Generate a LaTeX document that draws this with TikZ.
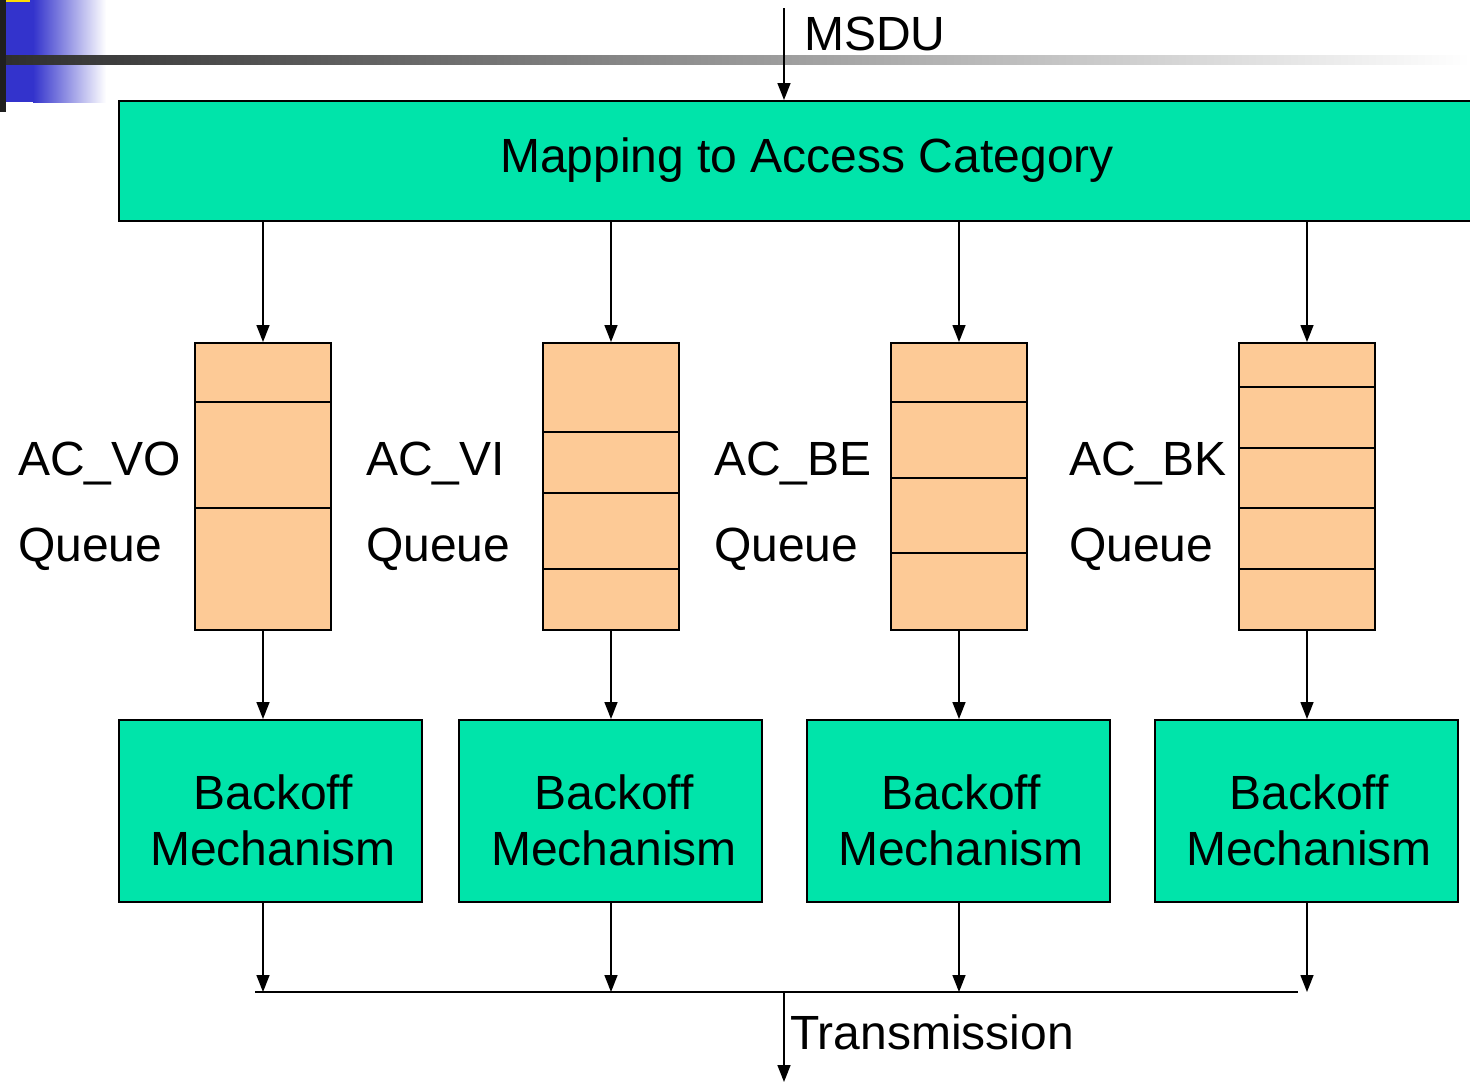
\documentclass[tikz,border=0pt]{standalone}
\usepackage{fontspec}
\setmainfont{Liberation Sans}
\usetikzlibrary{arrows.meta}

\definecolor{acgreen}{RGB}{0,228,170}
\definecolor{qorange}{RGB}{253,202,150}
\definecolor{slideblue}{RGB}{51,51,204}

\tikzset{
  arr/.style={line width=1.5pt, -{Triangle[length=17pt,width=13pt]}},
  greenbox/.style={draw, line width=2pt, fill=acgreen, inner sep=0pt},
  queuebox/.style={draw, line width=2pt, fill=qorange, inner sep=0pt,
    minimum width=136pt, minimum height=287pt},
  divider/.style={line width=2pt},
  lbl/.style={font=\fontsize{48}{56}\selectfont, inner sep=0pt},
}

\begin{document}
\begin{tikzpicture}[x=1pt, y=-1pt]
\useasboundingbox (0,0) rectangle (1470,1082);

% slide decoration in the upper left corner
\shade[left color=slideblue, right color=white] (33,0) rectangle (106,102);
\fill[slideblue] (5,0) rectangle (34,102);
\fill[yellow!80!orange] (6,0) rectangle (30,2);
\shade[left color=black!82, right color=white] (0,55) rectangle (1470,64);
\fill[black!88] (0,0) rectangle (6,112);

% mapping stage
\node[greenbox, minimum width=1370pt, minimum height=120pt, anchor=north west]
  (map) at (118,100) {};
\node[lbl, anchor=base] (maptxt) at (807,172) {Mapping to Access Category};

\coordinate (msduin) at (784,8);
\draw[arr] (msduin) -- (msduin |- map.north);
\node[lbl, anchor=base west] (msdu) at (804,50) {MSDU};

% queues
\node[queuebox, anchor=north west] (q1) at (194,342) {};
\node[queuebox, anchor=north west] (q2) at (542,342) {};
\node[queuebox, anchor=north west] (q3) at (890,342) {};
\node[queuebox, anchor=north west] (q4) at (1238,342) {};

\foreach \y in {402,508}
  \draw[divider] (q1.west |- 0,\y) -- (q1.east |- 0,\y);
\foreach \y in {432,493,569}
  \draw[divider] (q2.west |- 0,\y) -- (q2.east |- 0,\y);
\foreach \y in {402,478,553}
  \draw[divider] (q3.west |- 0,\y) -- (q3.east |- 0,\y);
\foreach \y in {387,448,508,569}
  \draw[divider] (q4.west |- 0,\y) -- (q4.east |- 0,\y);

% queue labels
\node[lbl, anchor=base west] (l1a) at (18,475) {AC\_VO};
\node[lbl, anchor=base west] (l1b) at (18,561) {Queue};
\node[lbl, anchor=base west] (l2a) at (366,475) {AC\_VI};
\node[lbl, anchor=base west] (l2b) at (366,561) {Queue};
\node[lbl, anchor=base west] (l3a) at (714,475) {AC\_BE};
\node[lbl, anchor=base west] (l3b) at (714,561) {Queue};
\node[lbl, anchor=base west] (l4a) at (1069,475) {AC\_BK};
\node[lbl, anchor=base west] (l4b) at (1069,561) {Queue};

% backoff stage
\foreach \i/\x in {1/118,2/458,3/806,4/1154}
  \node[greenbox, minimum width=303pt, minimum height=182pt, anchor=north west]
    (b\i) at (\x,719) {};
\foreach \i/\x in {1/273,2/614,3/961,4/1309} {
  \node[lbl, anchor=base] (bt\i) at (\x,809) {Backoff};
  \node[lbl, anchor=base] (bm\i) at (\x,865) {Mechanism};
}

% transmission bus
\coordinate (busL) at (255,992);
\coordinate (busR) at (1298,992);
\coordinate (txout) at (784,1082);
\draw[line width=2pt] (busL) -- (busR);

\foreach \i in {1,2,3,4} {
  \draw[arr] (map.south -| q\i.north) -- (q\i.north);
  \draw[arr] (q\i.south) -- (b\i.north -| q\i.south);
  \draw[arr] (b\i.south -| q\i.south) -- (busL -| q\i.south);
}
\draw[arr] (busL -| txout) -- (txout);
\node[lbl, anchor=base west] (tx) at (790,1049) {Transmission};
\end{tikzpicture}
\end{document}
